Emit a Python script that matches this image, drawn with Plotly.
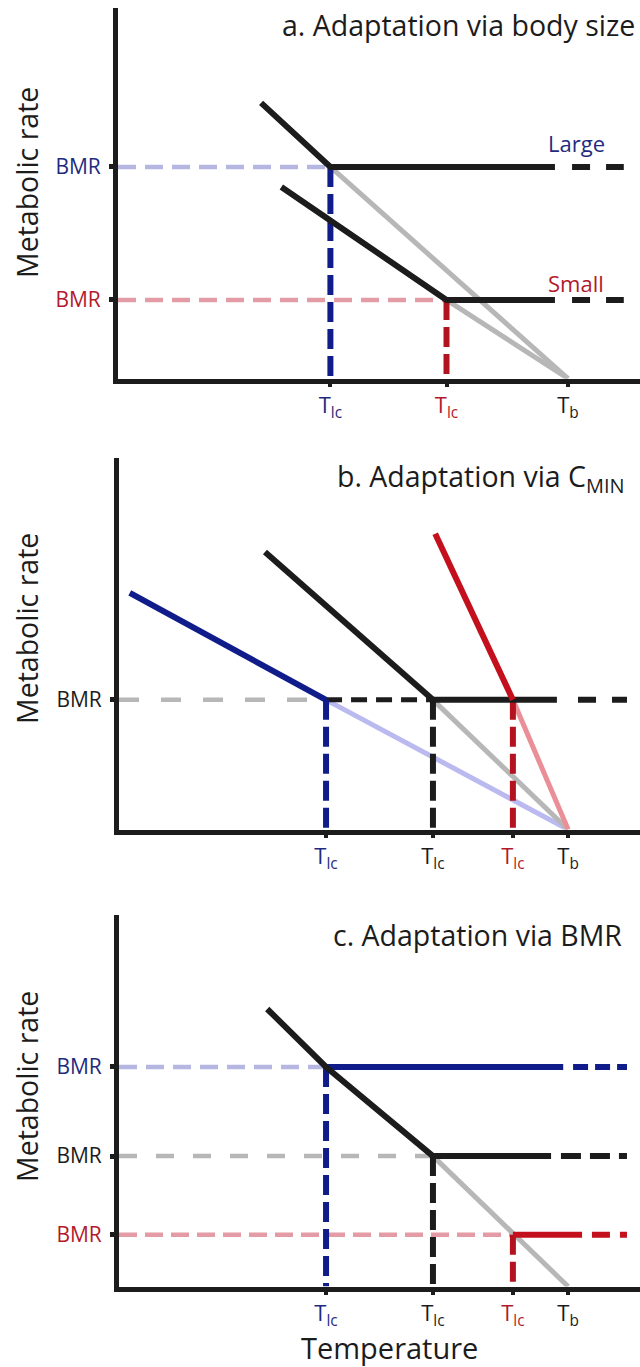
import plotly.graph_objects as go

W, H = 640, 1367
FONT = "Open Sans"

# ---------------- data (temperature and metabolic rate, arbitrary units) ----------------
T_B = 100.0      # body temperature
T_MAX = 116.0    # right end of the temperature axis
MR_MAX = 100.0   # top of the metabolic-rate axis

# a. Adaptation via body size
a_names = ["Large", "Small"]
a_bmr = [57.1, 21.2]
a_tlc = [47.2, 73.0]
a_start_t = [31.8, 36.3]
a_start_mr = [74.4, 51.7]
a_flat_end = [97.1, 97.1]

# b. Adaptation via C_MIN (shared BMR, three conductances)
b_bmr = 34.9
b_tlc = [46.1, 69.9, 87.7]
b_start_t = [2.4, 32.5, 70.4]
b_start_mr = [63.7, 74.7, 79.6]
b_flat_end = 97.5

# c. Adaptation via BMR (shared conductance, three BMRs)
c_bmr = [59.1, 35.1, 13.9]
c_tlc = [46.1, 69.9, 87.7]
c_start_t = 33.0
c_start_mr = 74.7
c_flat_end = [98.9, 96.2, 103.1]

# ---------------- styles ----------------
BLACK = "#1c1c1c"
GRAY = "#b7b7b7"
NAVY = "#0f1c8a"
NAVY_TXT = "#1f2b7e"
LIGHT_BLUE = "#b6b6e2"
LIGHT_BLUE_LINE = "#babaf0"
RED = "#c4101c"
RED_TXT = "#b3192b"
PINK = "#e39ca6"
PINK_LINE = "#ea8f98"


def px_x(px):
    return px / W


def px_y(px):
    return 1 - px / H


# panel frames in page pixels: (left, bottom, top)
frames = [(118, 378.5, 8), (119, 829.5, 458), (119, 1286.5, 915)]

fig = go.Figure()


def seg(xs, ys, color, width, dash="solid", axis=1):
    sfx = "" if axis == 1 else str(axis)
    fig.add_trace(go.Scatter(
        x=xs, y=ys, mode="lines", xaxis="x" + sfx, yaxis="y" + sfx,
        line=dict(color=color, width=width, dash=dash),
        hoverinfo="skip", showlegend=False,
    ))


# ---------- panel a ----------
a_light = [LIGHT_BLUE, PINK]
a_dark = [NAVY, "#b0141f"]
for i in range(2):
    seg([0, a_tlc[i]], [a_bmr[i]] * 2, a_light[i], 4.5, "18px,9px", 1)
for i in range(2):
    seg([a_tlc[i], T_B], [a_bmr[i], 0], GRAY, 5, axis=1)
for i in range(2):
    seg([a_tlc[i]] * 2, [a_bmr[i], 0], a_dark[i], 6, "20px,7px", 1)
for i in range(2):
    seg([a_start_t[i], a_tlc[i], a_flat_end[i]],
        [a_start_mr[i], a_bmr[i], a_bmr[i]], BLACK, 6, axis=1)
    seg([100.9, 112.4], [a_bmr[i]] * 2, BLACK, 6, "18px,16px", 1)

# ---------- panel b ----------
b_line = [NAVY, BLACK, RED]
b_under = [LIGHT_BLUE_LINE, GRAY, PINK_LINE]
b_vert = [NAVY, BLACK, "#b3121e"]
seg([0, b_tlc[0]], [b_bmr] * 2, GRAY, 4.5, "20px,22px", 2)
for i in range(3):
    seg([b_tlc[i], T_B], [b_bmr, 0], b_under[i], 5, axis=2)
seg([b_tlc[0], b_tlc[1]], [b_bmr] * 2, BLACK, 5, "16px,9px", 2)
for i in range(3):
    seg([b_tlc[i]] * 2, [b_bmr, 0], b_vert[i], 6, "20px,7px", 2)
seg([b_tlc[1], b_flat_end], [b_bmr] * 2, BLACK, 6, axis=2)
seg([102.2, 113.1], [b_bmr] * 2, BLACK, 6, "18px,16px", 2)
for i in range(3):
    seg([b_start_t[i], b_tlc[i]], [b_start_mr[i], b_bmr], b_line[i], 6, axis=2)

# ---------- panel c ----------
c_light = [LIGHT_BLUE, GRAY, PINK]
c_light_dash = ["18px,9px", "18px,19px", "18px,8px"]
c_solid = [NAVY, BLACK, RED]
c_vert = [NAVY, BLACK, "#b3121e"]
c_tail = [(101.1, 113.1, "15px,7px"), (98.4, 113.1, "20px,9px"), (105.3, 113.1, "18px,10px")]
for i in range(3):
    seg([0, c_tlc[i]], [c_bmr[i]] * 2, c_light[i], 4.5, c_light_dash[i], 3)
seg([c_tlc[1], T_B], [c_bmr[1], 0], GRAY, 5, axis=3)
for i in range(3):
    seg([c_tlc[i]] * 2, [c_bmr[i], 0], c_vert[i], 6, "20px,7px", 3)
for i in range(3):
    seg([c_tlc[i], c_flat_end[i]], [c_bmr[i]] * 2, c_solid[i], 6, axis=3)
    t0, t1, d = c_tail[i]
    seg([t0, t1], [c_bmr[i]] * 2, c_solid[i], 6, d, 3)
seg([c_start_t, c_tlc[0], c_tlc[1]], [c_start_mr, c_bmr[0], c_bmr[1]], BLACK, 6, axis=3)

# ---------------- axes ----------------
def colored(text, color):
    return f"<span style='color:{color}'>{text}</span>"


TLC = "T<sub>lc</sub>"
TB = "T<sub>b</sub>"
x_ticks = [
    ([a_tlc[0], a_tlc[1], T_B], [colored(TLC, NAVY_TXT), colored(TLC, RED_TXT), colored(TB, BLACK)]),
    ([b_tlc[0], b_tlc[1], b_tlc[2], T_B],
     [colored(TLC, NAVY_TXT), colored(TLC, BLACK), colored(TLC, RED_TXT), colored(TB, BLACK)]),
    ([c_tlc[0], c_tlc[1], c_tlc[2], T_B],
     [colored(TLC, NAVY_TXT), colored(TLC, BLACK), colored(TLC, RED_TXT), colored(TB, BLACK)]),
]
y_ticks = [
    (a_bmr, [colored("BMR", NAVY_TXT), colored("BMR", RED_TXT)]),
    ([b_bmr], [colored("BMR", BLACK)]),
    (c_bmr, [colored("BMR", NAVY_TXT), colored("BMR", BLACK), colored("BMR", RED_TXT)]),
]

layout = dict(
    width=W, height=H, margin=dict(l=0, r=0, t=0, b=0),
    paper_bgcolor="white", plot_bgcolor="white",
    font=dict(family=FONT, color=BLACK),
    showlegend=False,
)
for k, (left, bottom, top) in enumerate(frames):
    sfx = "" if k == 0 else str(k + 1)
    tv, tt = x_ticks[k]
    layout["xaxis" + sfx] = dict(
        domain=[px_x(left), 1.0], anchor="y" + sfx, range=[0, T_MAX],
        showline=True, linewidth=5, linecolor=BLACK, showgrid=False, zeroline=False,
        ticks="outside", ticklen=3, tickwidth=4, tickcolor=BLACK,
        tickvals=tv, ticktext=tt, tickfont=dict(family=FONT, size=22),
        fixedrange=True,
    )
    yv, yt = y_ticks[k]
    layout["yaxis" + sfx] = dict(
        domain=[px_y(bottom), px_y(top)], anchor="x" + sfx, range=[0, MR_MAX],
        showline=True, linewidth=5, linecolor=BLACK, showgrid=False, zeroline=False,
        ticks="outside", ticklen=4, tickwidth=5, tickcolor=BLACK,
        tickvals=yv, ticktext=yt, tickfont=dict(family=FONT, size=21),
        ticklabelstandoff=4, fixedrange=True,
    )

fig.update_layout(**layout)

# panel titles
titles = [
    ("a. Adaptation via body size", 637, 25),
    ("b. Adaptation via C<sub>MIN</sub>", 627, 478),
    ("c. Adaptation via BMR", 624, 935),
]
for text, xr, yc in titles:
    fig.add_annotation(text=text, xref="paper", yref="paper", x=px_x(xr), y=px_y(yc),
                       xanchor="right", yanchor="middle", showarrow=False,
                       font=dict(family=FONT, size=28.5, color=BLACK))

# y-axis titles
for yc in [183, 629, 1087]:
    fig.add_annotation(text="Metabolic rate", xref="paper", yref="paper", x=px_x(27), y=px_y(yc),
                       xanchor="center", yanchor="middle", textangle=-90, showarrow=False,
                       font=dict(family=FONT, size=28.5, color=BLACK))

# x-axis title
fig.add_annotation(text="Temperature", xref="paper", yref="paper", x=px_x(389), y=px_y(1347),
                   xanchor="center", yanchor="middle", showarrow=False,
                   font=dict(family=FONT, size=29, color=BLACK))

# body-size labels
for name, bmr, col, shift in zip(a_names, a_bmr, [NAVY_TXT, RED_TXT], [24, 17]):
    fig.add_annotation(text=name, xref="x", yref="y", x=101.8, y=bmr, yshift=shift,
                       xanchor="center", yanchor="middle", showarrow=False,
                       font=dict(family=FONT, size=22, color=col))

fig.write_html("out.html")
